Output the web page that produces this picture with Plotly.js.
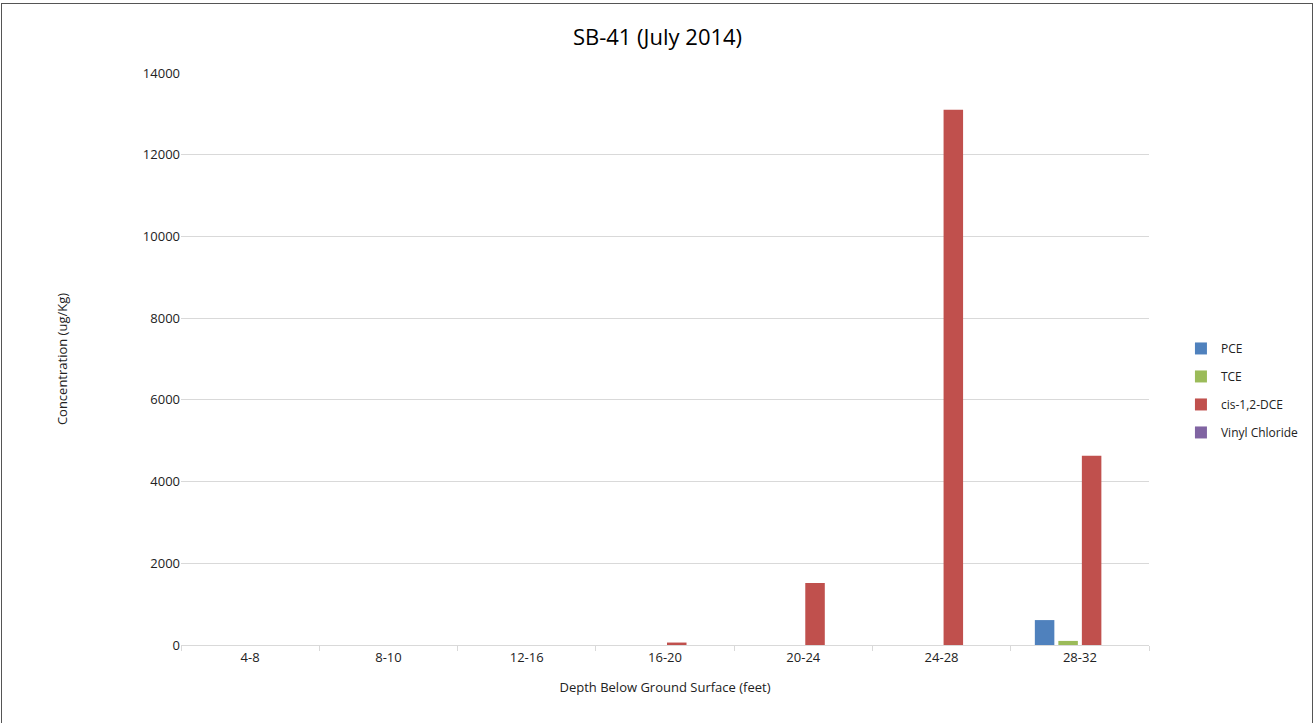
<!DOCTYPE html>
<html>
<head>
<meta charset="utf-8">
<script src="https://cdn.plot.ly/plotly-3.0.1.min.js"></script>
<style>
  html, body { margin: 0; padding: 0; background: #fff; }
  #wrap { position: relative; width: 1315px; height: 723px; overflow: hidden; }
  #chart { width: 1315px; height: 723px; }
  #frame { position: absolute; left: 1px; top: 3px; width: 1310px; height: 730px; border: 1px solid #555; pointer-events: none; }
</style>
</head>
<body>
<div id="wrap">
  <div id="chart"></div>
  <div id="frame"></div>
</div>
<script>
const depths = ["4-8", "8-10", "12-16", "16-20", "20-24", "24-28", "28-32"];
const pce = [0, 0, 0, 0, 0, 0, 610];
const tce = [0, 0, 0, 0, 0, 0, 100];
const cisDce = [0, 0, 0, 60, 1520, 13100, 4630];
const vinylChloride = [0, 0, 0, 0, 0, 0, 0];
const seriesNames = ["PCE", "TCE", "cis-1,2-DCE", "Vinyl Chloride"];
const seriesColors = ["#4f81bd", "#9bbb59", "#c0504d", "#8064a2"];
const seriesValues = [pce, tce, cisDce, vinylChloride];

const font = "Open Sans, Noto Sans, sans-serif";
const traces = seriesValues.map((vals, i) => ({
  type: "bar",
  name: seriesNames[i],
  legendgroup: "g" + i,
  x: depths,
  y: vals,
  marker: { color: seriesColors[i] }
}));

const layout = {
  width: 1315, height: 723,
  margin: { l: 181, r: 166, t: 73, b: 78, autoexpand: false },
  paper_bgcolor: "#fff", plot_bgcolor: "#fff",
  title: { text: "SB-41 (July 2014)", font: { family: font, size: 22, color: "#000" }, x: 0.5, xanchor: "center", y: 0.949, yanchor: "middle" },
  barmode: "group",
  bargap: 0.32,
  bargroupgap: 0.17,
  font: { family: font, size: 13, color: "#222" },
  xaxis: {
    type: "category",
    automargin: false,
    showline: true, linecolor: "#d9d9d9", linewidth: 1,
    ticks: "outside", tickson: "boundaries", ticklen: 5, tickcolor: "#d9d9d9",
    tickfont: { family: font, size: 13, color: "#222" },
    title: { text: "Depth Below Ground Surface (feet)", font: { family: font, size: 13, color: "#222" }, standoff: 18 },
    showgrid: false
  },
  yaxis: {
    automargin: false,
    range: [0, 14000], dtick: 2000, tick0: 0,
    showgrid: true, gridcolor: "#d9d9d9", gridwidth: 1,
    zeroline: false, showline: false,
    ticks: "", tickformat: "d",
    tickfont: { family: font, size: 13, color: "#222" },
    title: { text: "Concentration (ug/Kg)", font: { family: font, size: 13, color: "#222" }, standoff: 72 }
  },
  legend: {
    x: 1.033, xanchor: "left", y: 0.445, yanchor: "middle",
    font: { family: font, size: 12, color: "#222" },
    traceorder: "grouped",
    tracegroupgap: 9, itemwidth: 30,
    bgcolor: "rgba(0,0,0,0)"
  },
  showlegend: true
};

Plotly.newPlot("chart", traces, layout, { displayModeBar: false, staticPlot: true });
</script>
</body>
</html>
